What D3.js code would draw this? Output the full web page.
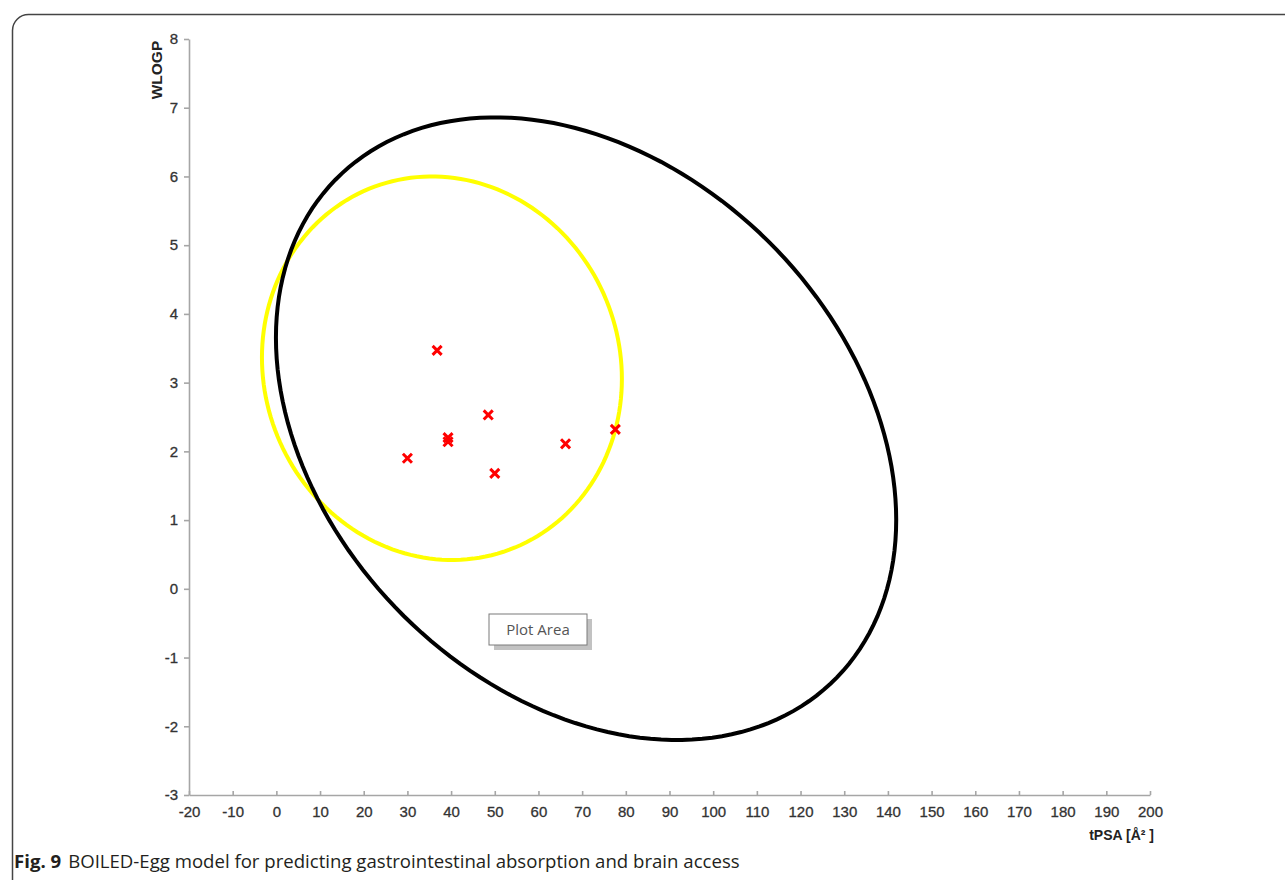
<!DOCTYPE html>
<html lang="en">
<head>
    <meta charset="UTF-8">
    <title>BOILED-Egg</title>
    <style>
        body{
            margin: 0;
            background: #fff;
        }
        .axis path,
        .axis line {
            fill: none;
            stroke: #a6a6a6;
            stroke-width: 1.6;
        }
        .axis text{
            font: 15px "Liberation Sans", Arial, sans-serif;
            fill: #333;
            stroke: #333;
            stroke-width: 0.3;
        }
        .title{
            font-weight: bold;
            font-family: "Liberation Sans", Arial, sans-serif;
            fill: #222;
        }
    </style>
</head>
<body>
    <svg width="1285" height="880"></svg>
    <script src="https://d3js.org/d3.v7.min.js"></script>
    <script>
        // compounds: tPSA vs WLOGP
        var tpsa  = [36.8, 30.0, 39.3, 39.3, 48.5, 50.0, 66.2, 77.6];
        var wlogp = [3.47, 1.90, 2.20, 2.14, 2.53, 1.68, 2.11, 2.32];

        var xTicks = d3.range(-20, 201, 10);
        var yTicks = d3.range(-3, 9, 1);

        // egg ellipses: center, half-width, half-height (data units), tilt
        var eggNames = ["white", "yolk"];
        var eggCx    = [70.9, 37.9];
        var eggCy    = [2.33, 3.21];
        var eggHx    = [71.0, 41.2];
        var eggHy    = [4.53, 2.79];
        var eggTilt  = [0.297, 0.056];
        var eggColor = ["#000000", "#ffff00"];

        var svg = d3.select("svg");

        // frame of the figure
        svg.append("rect")
            .attr("x", 12.5).attr("y", 14.5)
            .attr("width", 1400).attr("height", 1000)
            .attr("rx", 16)
            .attr("fill", "none")
            .attr("stroke", "#444")
            .attr("stroke-width", 1.5);

        var x = d3.scaleLinear().domain([-20, 200]).range([189, 1150]);
        var y = d3.scaleLinear().domain([-3, 8]).range([795, 39]);
        var fmt = function(d){ return String(d); };   // plain hyphen minus like the original

        // ellipses, yolk first so white sits on top
        var line = d3.line().x(function(d){ return x(d[0]); }).y(function(d){ return y(d[1]); });
        [1, 0].forEach(function(i){
            var pts = d3.range(0, 361, 2).map(function(a){
                var t = a * Math.PI / 180;
                return [eggCx[i] + eggHx[i] * Math.cos(t),
                        eggCy[i] - eggHy[i] * Math.sin(t + eggTilt[i])];
            });
            svg.append("path")
                .attr("class", "egg " + eggNames[i])
                .attr("d", line(pts))
                .attr("fill", "none")
                .attr("stroke", eggColor[i])
                .attr("stroke-width", 4);
        });

        // axes
        svg.append("g")
            .attr("class", "x axis")
            .attr("transform", "translate(0," + y(-3) + ")")
            .call(d3.axisBottom(x).tickValues(xTicks).tickFormat(fmt).tickSizeInner(-4).tickSizeOuter(0).tickPadding(11))
            .call(function(g){ g.selectAll("text").attr("dy", "0.71em"); });

        svg.append("g")
            .attr("class", "y axis")
            .attr("transform", "translate(" + x(-20) + ",0)")
            .call(d3.axisLeft(y).tickValues(yTicks).tickFormat(fmt).tickSizeInner(5).tickSizeOuter(0).tickPadding(6));

        svg.append("text")
            .attr("class", "title")
            .attr("font-size", 15.5)
            .attr("transform", "translate(162," + 70 + ") rotate(-90)")
            .attr("text-anchor", "middle")
            .text("WLOGP");

        svg.append("text")
            .attr("class", "title")
            .attr("font-size", 14)
            .attr("x", 1154).attr("y", 840)
            .attr("text-anchor", "end")
            .text("tPSA [Å² ]");

        // compounds
        svg.selectAll(".dot")
            .data(tpsa)
            .enter().append("path")
            .attr("class", "dot")
            .attr("transform", function(d, i){ return "translate(" + x(d) + "," + y(wlogp[i]) + ")"; })
            .attr("d", d3.symbol(d3.symbolTimes, 55))
            .attr("fill", "none")
            .attr("stroke", "#ff0000")
            .attr("stroke-width", 3);

        // "Plot Area" tooltip from the screenshot
        var tip = svg.append("g").attr("transform", "translate(489,614)");
        tip.append("rect")
            .attr("x", 5).attr("y", 5).attr("width", 98).attr("height", 31)
            .attr("fill", "#9a9a9a").attr("opacity", 0.6);
        tip.append("rect")
            .attr("width", 98).attr("height", 31)
            .attr("fill", "#fff").attr("stroke", "#7a7a7a").attr("stroke-width", 1);
        tip.append("text")
            .attr("x", 49).attr("y", 21)
            .attr("text-anchor", "middle")
            .style("font", "15px 'Open Sans', sans-serif")
            .style("fill", "#555")
            .text("Plot Area");

        // caption
        var cap = svg.append("text")
            .attr("x", 14).attr("y", 868)
            .style("font", "18.6px 'Open Sans', sans-serif")
            .style("fill", "#231f20");
        cap.append("tspan").style("font-weight", "bold").text("Fig. 9");
        cap.append("tspan").attr("dx", 7).text("BOILED-Egg model for predicting gastrointestinal absorption and brain access");
    </script>
</body>
</html>
